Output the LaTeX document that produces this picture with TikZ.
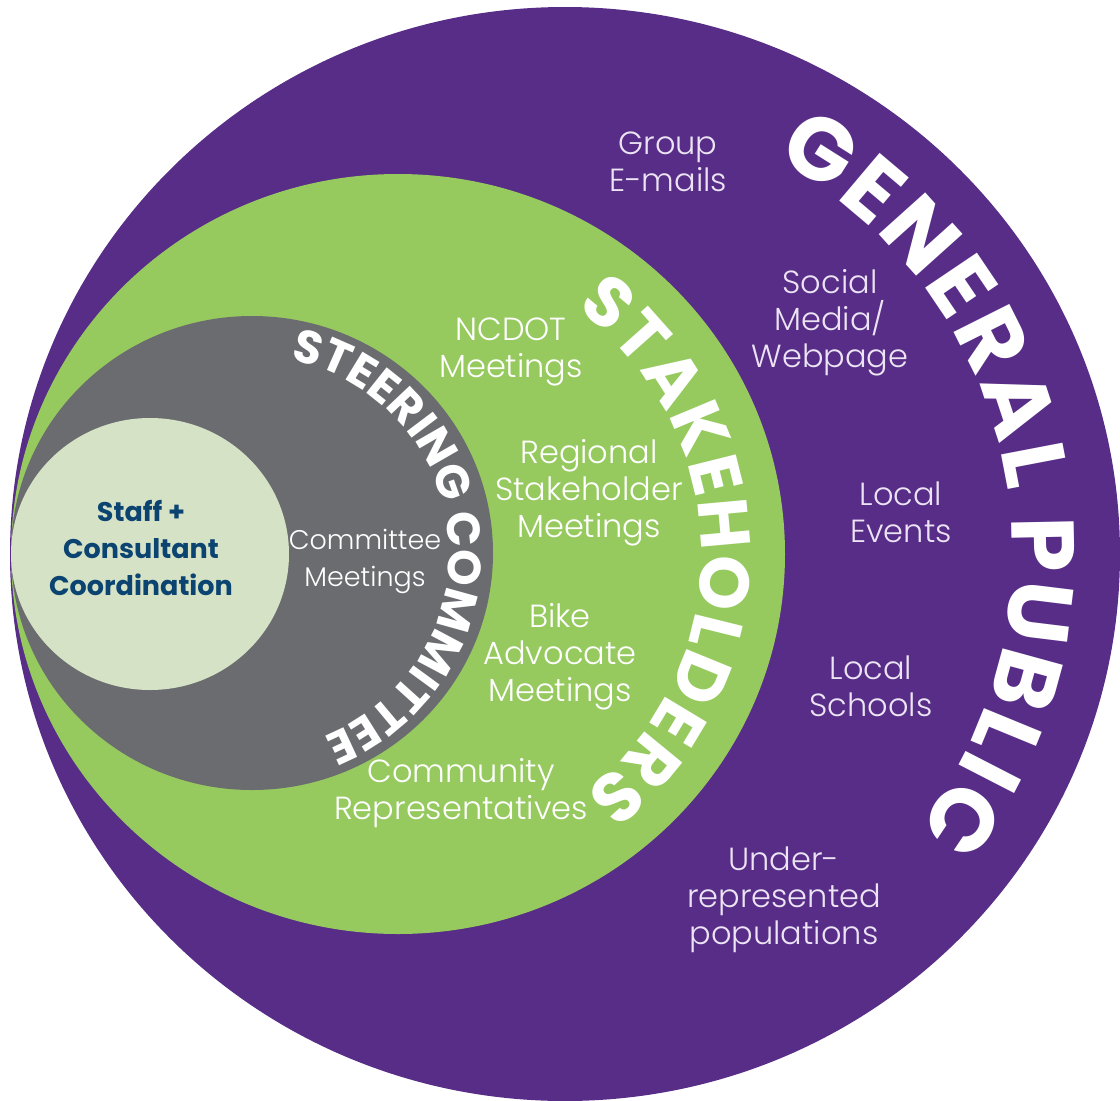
\documentclass[tikz,border=0pt]{standalone}
\usepackage{fontspec}
\setmainfont{Poppins}
\newfontfamily\lightfont{Poppins}[UprightFont={* Light}]
\newfontfamily\boldfont{Poppins}[UprightFont={* Bold}]
\usetikzlibrary{decorations.text}
\definecolor{gpurple}{HTML}{572D87}
\definecolor{sgreen}{HTML}{96CA5F}
\definecolor{cgray}{HTML}{6B6C70}
\definecolor{lgreen}{HTML}{D5E2C5}
\definecolor{dblue}{HTML}{0B4471}
\definecolor{lav}{HTML}{ECE4F4}
\newcommand\gpfont{\boldfont\fontsize{89}{89}\selectfont}
\newcommand\skfont{\boldfont\fontsize{70}{70}\selectfont}
\newcommand\scfont{\boldfont\fontsize{46.5}{46.5}\selectfont}
\tikzset{
  lbl/.style={align=center, font=\lightfont\fontsize{32}{37}\selectfont, inner sep=0pt},
  onpurple/.style={lbl, text=lav},
  ongreen/.style={lbl, text=white},
  ongray/.style={lbl, text=white, font=\lightfont\fontsize{27}{37}\selectfont},
  core/.style={align=center, font=\boldfont\fontsize{27}{37}\selectfont, text=dblue, inner sep=0pt}
}
\begin{document}
\begin{tikzpicture}[x=1pt,y=1pt]
\clip (0,0) rectangle (1120,-1101);
\coordinate (cP) at (565,-554);
\coordinate (cS) at (398,-554);
\coordinate (cC) at (252,-553);
\coordinate (cK) at (150,-554);
\fill[gpurple] (cP) ellipse[x radius=555pt, y radius=547pt];
\fill[sgreen] (cS) ellipse[x radius=387pt, y radius=380pt];
\fill[cgray] (cC) ellipse[x radius=241pt, y radius=237pt];
\fill[lgreen] (cK) ellipse[x radius=139pt, y radius=136pt];
% curved titles
\path[decorate, decoration={text along path, text={|\gpfont|G{\kern4pt}E{\kern4pt}N{\kern4pt}E{\kern4pt}R{\kern4pt}A{\kern4pt}L{\kern4pt} {\kern4pt}P{\kern4pt}U{\kern4pt}B{\kern4pt}L{\kern4pt}I{\kern4pt}C}, text align=center, text color=white}]
  (cP) ++(102:447pt) arc[start angle=102, end angle=-78, radius=447pt];
\path[decorate, decoration={text along path, text={|\skfont|S{\kern2pt}T{\kern2pt}A{\kern2pt}K{\kern2pt}E{\kern2pt}H{\kern2pt}O{\kern2pt}L{\kern2pt}D{\kern2pt}E{\kern2pt}R{\kern2pt}S}, text align=center, text color=white}]
  (cS) ++(91:303pt) arc[start angle=91, end angle=-89, radius=303pt];
\path[decorate, decoration={text along path, text={|\scfont|STEERING COMMITTEE}, text align=center, text color=white}]
  (cC) ++(95:197pt) arc[start angle=95, end angle=-85, radius=197pt];
% labels
\node[onpurple] (ge) at (668,-162) {Group\\E-mails};
\node[onpurple] (sm) at (830,-323) {Social\\Media/\\Webpage};
\node[onpurple] (le) at (901,-512) {Local\\Events};
\node[onpurple] (ls) at (871,-686) {Local\\Schools};
\node[onpurple] (ur) at (784,-900) {Under-\\represented\\populations};
\node[ongreen] (nc) at (511,-352) {NCDOT\\Meetings};
\node[ongreen] (rs) at (589,-493) {Regional\\Stakeholder\\Meetings};
\node[ongreen] (ba) at (560,-657) {Bike\\Advocate\\Meetings};
\node[ongreen] (cr) at (461,-793) {Community\\Representatives};
\node[ongray] (cm) at (365,-561) {Committee\\Meetings};
\node[core] (sc) at (141,-548) {Staff +\\Consultant\\Coordination};
\end{tikzpicture}
\end{document}
